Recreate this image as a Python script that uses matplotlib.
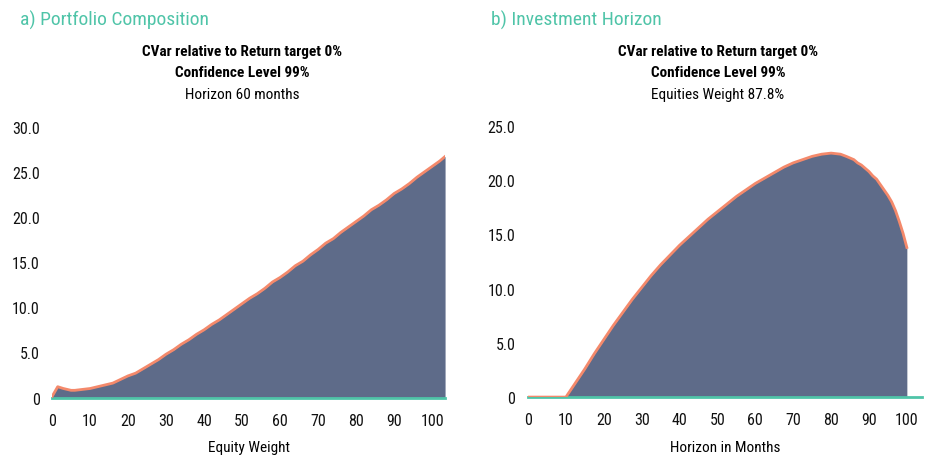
import matplotlib
matplotlib.use("Agg")
import matplotlib.pyplot as plt
from matplotlib import font_manager
from matplotlib.ticker import FuncFormatter

# Data
equity_weight = [0, 1.5, 3, 5, 6, 8, 10, 12, 14, 16, 18, 20, 22, 24, 26, 28, 30,
                 32, 34, 36, 38, 40, 42, 44, 46, 48, 50, 52, 54, 56, 58, 60, 62,
                 64, 66, 68, 70, 72, 74, 76, 78, 80, 82, 84, 86, 88, 90, 92, 94,
                 96, 98, 100, 102, 103.4]
cvar_by_weight = [0.1, 1.2, 1.0, 0.8, 0.8, 0.9, 1.0, 1.2, 1.4, 1.6, 2.0, 2.4, 2.7,
                  3.2, 3.7, 4.2, 4.8, 5.3, 5.9, 6.4, 7.0, 7.5, 8.1, 8.6, 9.2, 9.8,
                  10.4, 11.0, 11.5, 12.1, 12.8, 13.3, 13.9, 14.6, 15.1, 15.8, 16.4,
                  17.1, 17.6, 18.3, 18.9, 19.5, 20.1, 20.8, 21.3, 21.9, 22.6, 23.1,
                  23.7, 24.4, 25.0, 25.6, 26.2, 26.7]

horizon_months = [0, 10, 12.5, 15, 17.5, 20, 22.5, 25, 27.5, 30, 32.5, 35, 37.5,
                  40, 42.5, 45, 47.5, 50, 52.5, 55, 57.5, 60, 62.5, 65, 67.5, 70,
                  72.5, 75, 77.5, 80, 82.5, 84, 86, 87, 88, 89, 90, 91, 92, 93,
                  94, 95, 96, 97, 98, 99, 100]
cvar_by_horizon = [0, 0, 1.3, 2.6, 4.0, 5.3, 6.6, 7.8, 9.0, 10.1, 11.2, 12.2, 13.1,
                   14.0, 14.8, 15.6, 16.4, 17.1, 17.8, 18.5, 19.1, 19.7, 20.2, 20.7,
                   21.2, 21.6, 21.9, 22.2, 22.4, 22.5, 22.4, 22.2, 21.9, 21.6, 21.4,
                   21.1, 20.8, 20.4, 20.1, 19.6, 19.1, 18.6, 18.0, 17.2, 16.2, 15.1,
                   13.8]

FILL = '#5e6b89'
LINE = '#f4896b'
TEAL = '#4fc4a8'

installed = {f.name for f in font_manager.fontManager.ttflist}
for fam in ['Liberation Sans Narrow', 'Roboto Condensed', 'Roboto']:
    if fam in installed:
        plt.rcParams['font.family'] = [fam, 'DejaVu Sans']
        break

fig = plt.figure(figsize=(9.37, 4.56), dpi=100)
ax1 = fig.add_axes([0.0555, 0.126, 0.4195, 0.594])
ax2 = fig.add_axes([0.5635, 0.127, 0.4205, 0.5945])

fmt = FuncFormatter(lambda v, p: '0' if v == 0 else f'{v:.1f}')


def style(ax, xmax, ymax, yticks, xlabel):
    ax.set_xlim(0, xmax)
    ax.set_ylim(0, ymax)
    ax.set_xticks(range(0, 101, 10))
    ax.set_yticks(yticks)
    ax.yaxis.set_major_formatter(fmt)
    for s in ['top', 'right', 'left']:
        ax.spines[s].set_visible(False)
    ax.spines['bottom'].set_color(TEAL)
    ax.spines['bottom'].set_linewidth(2)
    ax.spines['bottom'].set_zorder(2.5)
    ax.tick_params(length=0, labelsize=11.5, colors='#111111')
    ax.tick_params(axis='x', pad=11)
    ax.tick_params(axis='y', pad=9)
    ax.set_xlabel(xlabel, fontsize=11, labelpad=9)


ax1.fill_between(equity_weight, cvar_by_weight, color=FILL, lw=0)
ax1.plot(equity_weight, cvar_by_weight, color=LINE, lw=2, zorder=3)
style(ax1, 103.4, 30, [0, 5, 10, 15, 20, 25, 30], 'Equity Weight')

ax2.fill_between(horizon_months, cvar_by_horizon, color=FILL, lw=0)
ax2.plot(horizon_months, cvar_by_horizon, color=LINE, lw=2, zorder=3)
style(ax2, 104, 25, [0, 5, 10, 15, 20, 25], 'Horizon in Months')

# panel headings
fig.text(20 / 937, 1 - 20 / 456, 'a) Portfolio Composition', color=TEAL,
         fontsize=14, ha='left', va='center')
fig.text(491 / 937, 1 - 20 / 456, 'b) Investment Horizon', color=TEAL,
         fontsize=14, ha='left', va='center')

for cx, third in [(242, 'Horizon 60 months'), (718, 'Equities Weight 87.8%')]:
    fig.text(cx / 937, 1 - 52 / 456, 'CVar relative to Return target 0%',
             fontsize=11, fontweight='bold', ha='center', va='center')
    fig.text(cx / 937, 1 - 73 / 456, 'Confidence Level 99%',
             fontsize=11, fontweight='bold', ha='center', va='center')
    fig.text(cx / 937, 1 - 95 / 456, third,
             fontsize=11, ha='center', va='center')

fig.savefig('out.png', dpi=100)
